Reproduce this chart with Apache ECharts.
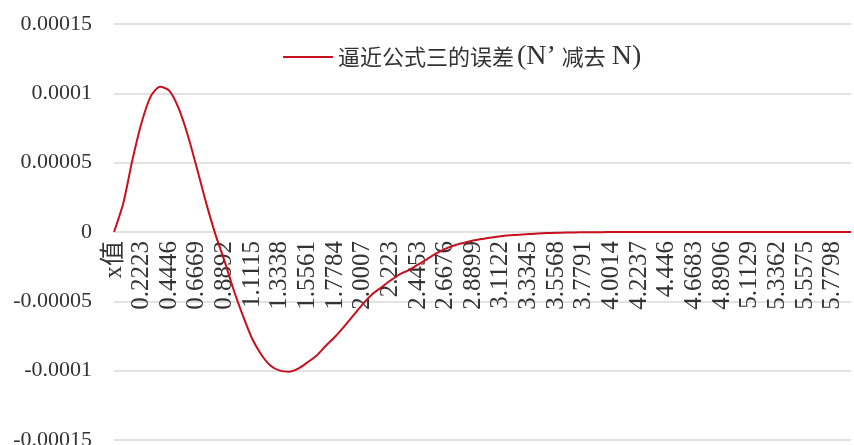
<!DOCTYPE html>
<html>
<head>
<meta charset="utf-8">
<script src="https://cdn.jsdelivr.net/npm/echarts@6/dist/echarts.min.js"></script>
<style>
html,body{margin:0;padding:0;background:#fff;}
#chart{width:854px;height:445px;}
</style>
</head>
<body>
<div id="chart"></div>
<script>
// Category labels (x values), first category is the header "x值"
const categories = ['x值',
'0.0741','0.1482','0.2223','0.2964','0.3705','0.4446','0.5187','0.5928','0.6669','0.741',
'0.8151','0.8892','0.9633','1.0374','1.1115','1.1856','1.2597','1.3338','1.4079','1.482',
'1.5561','1.6302','1.7043','1.7784','1.8525','1.9266','2.0007','2.0748','2.1489','2.223',
'2.2971','2.3712','2.4453','2.5194','2.5935','2.6676','2.7417','2.8158','2.8899','2.964',
'3.0381','3.1122','3.1863','3.2604','3.3345','3.4086','3.4827','3.5568','3.6309','3.705',
'3.7791','3.8532','3.9273','4.0014','4.0755','4.1496','4.2237','4.2978','4.3719','4.446',
'4.5201','4.5942','4.6683','4.7424','4.8165','4.8906','4.9647','5.0388','5.1129','5.187',
'5.2611','5.3362','5.4093','5.4834','5.5575','5.6316','5.7057','5.7798','5.8539','5.928'];

// Error values (N' - N)
const errorValues = [0,
2.05e-5, 5.2e-5, 7.9e-5, 9.8e-5, 1.048e-4, 1.02e-4, 8.95e-5, 7.0e-5, 4.6e-5, 2.1e-5,
-1.5e-6, -2.1e-5, -4.2e-5, -6.05e-5, -7.7e-5, -8.85e-5, -9.65e-5, -1.0e-4, -1.007e-4, -9.85e-5,
-9.4e-5, -8.9e-5, -8.2e-5, -7.55e-5, -6.8e-5, -6.0e-5, -5.2e-5, -4.5e-5, -4.0e-5, -3.5e-5,
-3.05e-5, -2.75e-5, -2.35e-5, -1.95e-5, -1.55e-5, -1.2e-5, -9.5e-6, -7.8e-6, -6.2e-6, -5.0e-6,
-3.9e-6, -3.0e-6, -2.4e-6, -1.9e-6, -1.4e-6, -1.1e-6, -8e-7, -6e-7, -4e-7, -3e-7,
-2e-7, -1.5e-7, -1e-7, -7e-8, -5e-8, -3e-8, -2e-8, -1e-8, 0, 0,
0, 0, 0, 0, 0, 0, 0, 0, 0, 0,
0, 0, 0, 0, 0, 0, 0, 0, 0, 0];

const yTickLabels = ['-0.00015','-0.0001','-0.00005','0','0.00005','0.0001','0.00015'];
const seriesName = '逼近公式三的误差(N’减去N)';

const chart = echarts.init(document.getElementById('chart'), null, {renderer:'canvas'});
const serif = "'Liberation Serif','Times New Roman','Noto Sans CJK SC',serif";
const cjk = "'Noto Sans CJK SC','Liberation Serif',sans-serif";
const gridTop = 24, gridBottom = 5, chartH = 445;
const zeroOffset = -((chartH - gridBottom - gridTop) / 2); // move category labels up to the zero line
chart.setOption({
  backgroundColor:'#ffffff',
  animation:false,
  grid:{left:114, right:3, top:gridTop, bottom:gridBottom, containLabel:false, outerBoundsMode:'none'},
  legend:{
    data:[seriesName], left:278, top:38, icon:'rect', itemWidth:50, itemHeight:2,
    formatter:function(){
      return '{c|逼近公式三的误差}{l1|(N’}{c|减去}{l2|N)}';
    },
    textStyle:{fontFamily:serif, fontSize:22, color:'#333',
      rich:{
        c:{fontFamily:cjk, fontSize:22, color:'#333'},
        l1:{fontFamily:serif, fontSize:28, color:'#333', padding:[0,6,0,3]},
        l2:{fontFamily:serif, fontSize:28, color:'#333', padding:[0,3,0,6]}
      }
    }
  },
  xAxis:{
    type:'category', data:categories, boundaryGap:false, position:'bottom', offset:zeroOffset,
    axisLine:{show:false, onZero:false}, axisTick:{show:false},
    axisLabel:{interval:2, rotate:90, margin:9, fontFamily:serif, fontSize:25, color:'#333'},
    splitLine:{show:false}
  },
  yAxis:{
    type:'value', min:-0.00015, max:0.00015, interval:0.00005,
    axisLine:{show:false}, axisTick:{show:false},
    splitLine:{lineStyle:{color:'#d9d9d9', width:1.5}},
    axisLabel:{margin:22, fontFamily:serif, fontSize:22, color:'#333',
      formatter:function(v){ return yTickLabels[Math.round(v/0.00005)+3]; }}
  },
  series:[{
    name:seriesName, type:'line', data:errorValues, symbol:'none', smooth:0.25,
    lineStyle:{color:'#C8101E', width:2}, itemStyle:{color:'#C8101E'}
  }]
});
</script>
</body>
</html>
